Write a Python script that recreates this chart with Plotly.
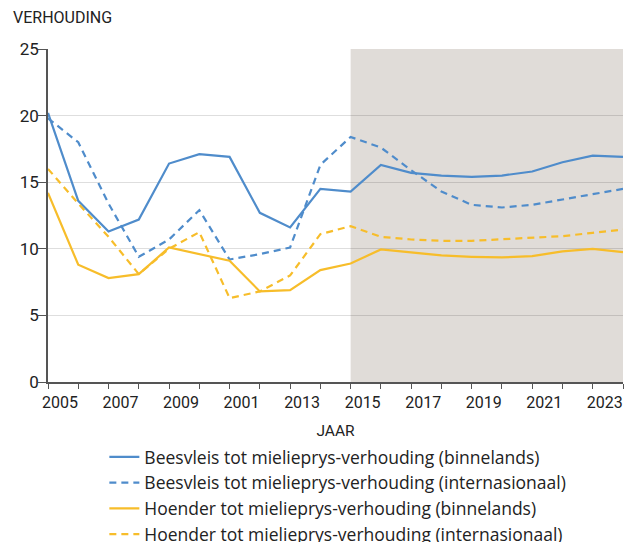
import plotly.graph_objects as go

years = list(range(2005, 2025))
tick_labels = ["2005", "", "2007", "", "2009", "", "2001", "", "2013", "",
               "2015", "", "2017", "", "2019", "", "2021", "", "2023", ""]

beef_domestic = [20.2, 13.6, 11.3, 12.2, 16.4, 17.1, 16.9, 12.7, 11.6, 14.5,
                 14.3, 16.3, 15.7, 15.5, 15.4, 15.5, 15.8, 16.5, 17.0, 16.9]
beef_intl = [19.8, 18.0, 13.4, 9.4, 10.7, 12.9, 9.2, 9.6, 10.1, 16.3,
             18.4, 17.6, 15.9, 14.3, 13.3, 13.1, 13.3, 13.7, 14.1, 14.5]
chicken_domestic = [14.2, 8.8, 7.8, 8.1, 10.1, 9.6, 9.1, 6.8, 6.9, 8.4,
                    8.9, 9.95, 9.75, 9.5, 9.4, 9.35, 9.45, 9.8, 10.0, 9.75]
chicken_intl = [16.0, 13.4, 10.9, 8.1, 10.0, 11.25, 6.3, 6.8, 8.0, 11.1,
                11.7, 10.9, 10.7, 10.6, 10.6, 10.7, 10.8, 10.95, 11.2, 11.45]

series_names = [
    "Beesvleis tot mielieprys-verhouding (binnelands)",
    "Beesvleis tot mielieprys-verhouding (internasionaal)",
    "Hoender tot mielieprys-verhouding (binnelands)",
    "Hoender tot mielieprys-verhouding (internasionaal)",
]
forecast_start, forecast_end = 2015, 2024

BLUE = "#4f8ccb"
YELLOW = "#f7bd2a"
FONT = "Roboto"

fig = go.Figure()
for name, vals, color, dash in [
    (series_names[0], beef_domestic, BLUE, "solid"),
    (series_names[1], beef_intl, BLUE, "7px,5px"),
    (series_names[2], chicken_domestic, YELLOW, "solid"),
    (series_names[3], chicken_intl, YELLOW, "7px,5px"),
]:
    fig.add_trace(go.Scatter(x=years, y=vals, mode="lines", name=name,
                             line=dict(color=color, width=2.2, dash=dash)))

fig.add_shape(type="rect", xref="x", yref="y", x0=forecast_start, x1=forecast_end,
              y0=0, y1=25, fillcolor="#e0dcd8", line_width=0, layer="below")

fig.update_layout(
    width=626, height=542,
    margin=dict(l=48, r=3, t=49, b=160, autoexpand=False),
    paper_bgcolor="white", plot_bgcolor="white",
    font=dict(family=FONT, color="#222222", size=16),
    title=dict(text="VERHOUDING", x=13/626, xanchor="left", xref="container",
               y=1 - 17/542, yanchor="middle", yref="container",
               font=dict(size=16, color="#222222")),
    showlegend=True,
    legend=dict(x=0.098, xanchor="left", y=-0.171, yanchor="top",
                font=dict(family="Open Sans", size=17.5, color="#222222"),
                bgcolor="rgba(0,0,0,0)", tracegroupgap=0),
)
fig.update_xaxes(
    range=[2005, 2024], tickvals=years, ticktext=tick_labels,
    ticks="outside", ticklen=5, tickcolor="#555555", tickwidth=1,
    ticklabelshift=12, automargin=False,
    showline=True, linecolor="#555555", linewidth=1.5, showgrid=False,
    zeroline=False, tickfont=dict(size=16, color="#222222"),
    title=dict(text="JAAR", font=dict(size=15.5, color="#222222"), standoff=14),
)
fig.update_yaxes(
    range=[0, 25], dtick=5, ticks="outside", ticklen=8, tickcolor="#555555",
    ticklabelstandoff=-4,
    showline=True, linecolor="#555555", linewidth=1.5, automargin=False,
    showgrid=True, gridcolor="rgba(0,0,0,0.13)", gridwidth=1, zeroline=False,
    tickfont=dict(size=17, color="#222222"),
)

fig.write_html(
    "out.html",
    config={"displayModeBar": False},
    post_script="document.body.style.margin='0';document.body.style.overflow='hidden';",
)
